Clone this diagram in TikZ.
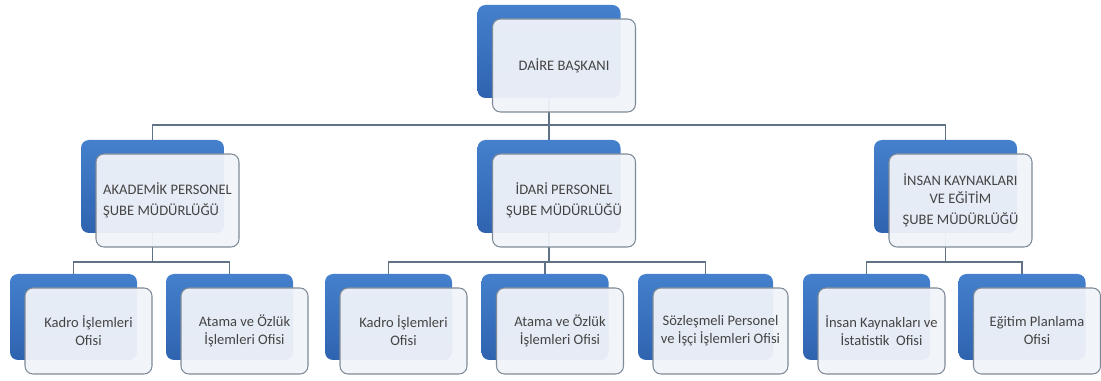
\documentclass[tikz,border=0pt]{standalone}
\usepackage{fontspec}
\setmainfont{Carlito}
\usetikzlibrary{backgrounds}
\definecolor{bluetop}{HTML}{4480CD}
\definecolor{bluebot}{HTML}{2F63B0}
\definecolor{cardfill}{HTML}{F0F3F9}
\definecolor{cardline}{HTML}{7E8A97}
\definecolor{connc}{HTML}{5F7286}
\definecolor{txt}{HTML}{444444}
\begin{document}
\begin{tikzpicture}[x=0.75pt,y=-0.75pt,
  back/.style={rounded corners=6pt, top color=bluetop, bottom color=bluebot, draw=none, inner sep=0pt},
  card/.style={rounded corners=6pt, draw=cardline, line width=0.8pt, fill=cardfill, fill opacity=0.95, text opacity=1, text=txt, inner sep=0pt, align=center, font=\fontsize{10.9}{13.5}\selectfont},
  big/.style={minimum width=107.25pt, minimum height=69.75pt},
  small/.style={minimum width=95.25pt, minimum height=64.5pt},
  conn/.style={draw=connc, line width=0.9pt}]
\useasboundingbox (0,0) rectangle (1101,381);
% top
\node[back,big] (tb) at (549,51.5) {};
\node[card,big] (t) at (564,65.5) {DAİRE BAŞKANI};
% middle
\node[back,big] (m1b) at (152.5,186.5) {};
\node[card,big,align=left] (m1) at (167.5,200.5) {AKADEMİK PERSONEL\\[2pt]ŞUBE MÜDÜRLÜĞÜ};
\node[back,big] (m2b) at (549,186.5) {};
\node[card,big] (m2) at (564,200.5) {İDARİ PERSONEL\\[2pt]ŞUBE MÜDÜRLÜĞÜ};
\node[back,big] (m3b) at (945.5,186.5) {};
\node[card,big] (m3) at (960.5,200.5) {İNSAN KAYNAKLARI\\VE EĞİTİM\\[2pt]ŞUBE MÜDÜRLÜĞÜ};
% bottom
\node[back,small] (s1b) at (73.5,317) {};
\node[card,small] (s1) at (88.5,331) {Kadro İşlemleri\\Ofisi};
\node[back,small] (s2b) at (229.5,317) {};
\node[card,small] (s2) at (244.5,331) {Atama ve Özlük\\İşlemleri Ofisi};
\node[back,small] (s3b) at (388.5,317) {};
\node[card,small] (s3) at (403.5,331) {Kadro İşlemleri\\Ofisi};
\node[back,small] (s4b) at (545,317) {};
\node[card,small] (s4) at (560,331) {Atama ve Özlük\\İşlemleri Ofisi};
\node[back,small,minimum width=101.25pt] (s5b) at (705.5,317) {};
\node[card,small,minimum width=101.25pt] (s5) at (720.5,331) {Sözleşmeli Personel\\ve İşçi İşlemleri Ofisi};
\node[back,small] (s6b) at (866.5,317) {};
\node[card,small] (s6) at (881.5,331) {İnsan Kaynakları ve\\İstatistik\ \ Ofisi};
\node[back,small] (s7b) at (1022,317) {};
\node[card,small] (s7) at (1037,331) {Eğitim Planlama\\Ofisi};
% connectors
\coordinate (bus0) at (549,125);
\coordinate (bus1) at (152.5,262);
\coordinate (bus2) at (549,262);
\coordinate (bus3) at (945.5,262);
\begin{scope}[on background layer]
  \draw[conn] (tb.center) -- (bus0);
  \draw[conn] (m1b.center) |- (bus0) -| (m3b.center);
  \draw[conn] (bus0) -- (m2b.center);
  \draw[conn] (m1b.center) -- (bus1);
  \draw[conn] (s1b.center) |- (bus1) -| (s2b.center);
  \draw[conn] (m2b.center) -- (bus2);
  \draw[conn] (s3b.center) |- (bus2) -| (s5b.center);
  \draw[conn] (s4b.center) |- (bus2);
  \draw[conn] (m3b.center) -- (bus3);
  \draw[conn] (s6b.center) |- (bus3) -| (s7b.center);
\end{scope}
\end{tikzpicture}
\end{document}
